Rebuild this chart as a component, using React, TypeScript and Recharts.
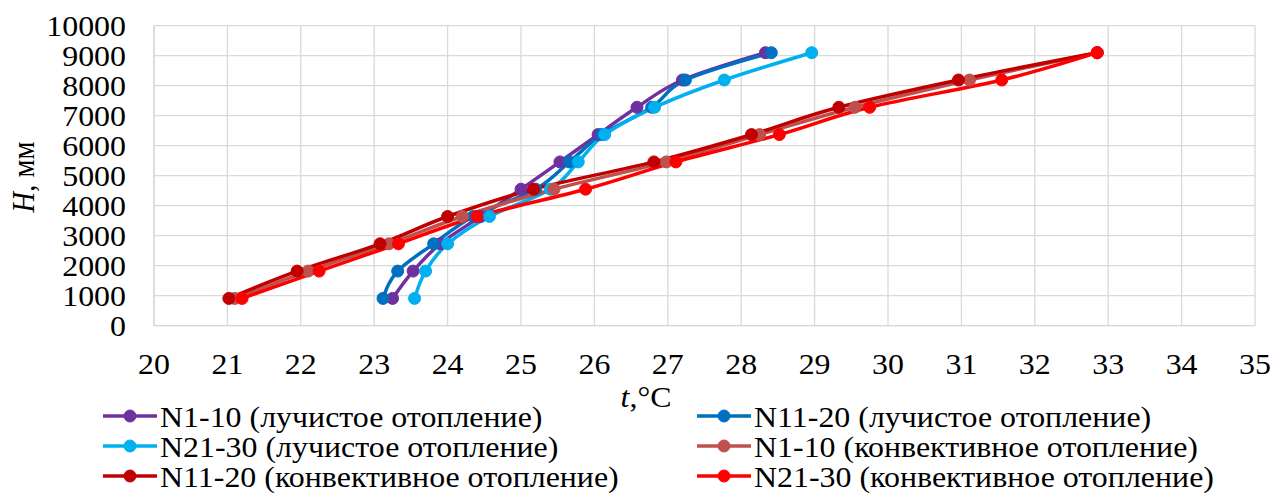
import React from 'react';
import { LineChart, Line, XAxis, YAxis, CartesianGrid, Legend } from 'recharts';

const H_LEVELS = [910, 1820, 2730, 3640, 4550, 5460, 6370, 7280, 8190, 9100];

const rad1_10 = [23.25, 23.53, 23.9, 24.45, 25.0, 25.53, 26.05, 26.58, 27.2, 28.33];
const rad11_20 = [23.12, 23.32, 23.81, 24.35, 25.2, 25.66, 26.1, 26.78, 27.24, 28.41];
const rad21_30 = [23.55, 23.7, 24.0, 24.57, 25.4, 25.78, 26.14, 26.82, 27.77, 28.96];
const conv1_10 = [21.1, 22.1, 23.2, 24.2, 25.45, 26.98, 28.25, 29.55, 31.11, 32.85];
const conv11_20 = [21.02, 21.95, 23.08, 24.0, 25.17, 26.81, 28.14, 29.33, 30.96, 32.85];
const conv21_30 = [21.2, 22.25, 23.33, 24.4, 25.88, 27.11, 28.52, 29.75, 31.55, 32.85];

const X_TICKS = [20, 21, 22, 23, 24, 25, 26, 27, 28, 29, 30, 31, 32, 33, 34, 35];
const Y_TICKS = [0, 1000, 2000, 3000, 4000, 5000, 6000, 7000, 8000, 9000, 10000];

const SERIES = [
  { key: 's1', name: 'N1-10 (лучистое отопление)', color: '#7030A0', values: rad1_10 },
  { key: 's2', name: 'N11-20 (лучистое отопление)', color: '#0070C0', values: rad11_20 },
  { key: 's3', name: 'N21-30 (лучистое отопление)', color: '#00B0F0', values: rad21_30 },
  { key: 's4', name: 'N1-10 (конвективное отопление)', color: '#C0504D', values: conv1_10 },
  { key: 's5', name: 'N11-20 (конвективное отопление)', color: '#C00000', values: conv11_20 },
  { key: 's6', name: 'N21-30 (конвективное отопление)', color: '#FF0000', values: conv21_30 },
];

const rows = H_LEVELS.map((h, i) => {
  const r: any = { H: h };
  SERIES.forEach((s) => {
    r[s.key] = s.values[i];
  });
  return r;
});

const FONT = '"Liberation Serif", "Times New Roman", serif';
const FS = 28.5;
const SX = 1.12;

const XTick = (props: any) => {
  const { x, y, payload } = props;
  return (
    <g transform={`translate(${x},${y})`}>
      <text transform={`scale(${SX},1)`} x={0} y={48.6} textAnchor="middle" fontFamily={FONT} fontSize={FS} fill="#000">
        {payload.value}
      </text>
    </g>
  );
};

const YTick = (props: any) => {
  const { x, y, payload } = props;
  return (
    <g transform={`translate(${x - 28},${y})`}>
      <text transform={`scale(${SX},1)`} x={0} y={0} dy="0.355em" textAnchor="end" fontFamily={FONT} fontSize={FS} fill="#000">
        {payload.value}
      </text>
    </g>
  );
};

const XTitle = () => (
  <g transform="translate(638,399)">
    <text transform={`scale(${SX},1)`} x={0} y={0} textAnchor="middle" fontFamily={FONT} fontSize={FS} fill="#000">
      <tspan fontStyle="italic">t</tspan>
      <tspan>,°C</tspan>
    </text>
  </g>
);

const YTitle = () => (
  <g transform="translate(26,169)">
    <text transform={`scale(${SX},1) rotate(-90)`} x={0} y={0} textAnchor="middle" fontFamily={FONT} fontSize={FS} fill="#000">
      <tspan fontStyle="italic">H</tspan>
      <tspan>, мм</tspan>
    </text>
  </g>
);

const renderLegend = () => (
  <svg width={1264} height={94} style={{ display: 'block', overflow: 'visible' }}>
    {SERIES.map((s, i) => {
      const col = i % 2;
      const row = Math.floor(i / 2);
      const x0 = 95 + col * 594;
      const cy = 15 + row * 30;
      return (
        <g key={s.key}>
          <line x1={x0} y1={cy} x2={x0 + 54} y2={cy} stroke={s.color} strokeWidth={3.5} />
          <circle cx={x0 + 27} cy={cy} r={6} fill={s.color} stroke={s.color} strokeWidth={1} />
          <g transform={`translate(${x0 + 57},${cy + 10.7})`}>
            <text transform={`scale(${SX},1)`} x={0} y={0} fontFamily={FONT} fontSize={FS} fill="#000">
              {s.name}
            </text>
          </g>
        </g>
      );
    })}
  </svg>
);

export default function App() {
  return (
    <div style={{ width: 1264, height: 487, padding: '8px 0 0 8px', position: 'relative' }}>
      <style>{`html, body { margin: 0; padding: 0; overflow: hidden; } svg { overflow: visible; }`}</style>
      <LineChart
        width={1264}
        height={487}
        layout="vertical"
        data={rows}
        margin={{ top: 17.7, right: 17, bottom: 109.3, left: 0 }}
      >
        <CartesianGrid stroke="#D9D9D9" strokeWidth={1.3} verticalValues={X_TICKS} horizontalValues={Y_TICKS} />
        <XAxis
          type="number"
          domain={[20, 35]}
          ticks={X_TICKS}
          interval={0}
          height={60}
          tickLine={false}
          tickSize={0}
          tickMargin={0}
          axisLine={{ stroke: '#D9D9D9', strokeWidth: 1.3 }}
          tick={<XTick />}
          allowDataOverflow
          label={{ content: () => <XTitle /> }}
        />
        <YAxis
          type="number"
          dataKey="H"
          domain={[0, 10000]}
          ticks={Y_TICKS}
          interval={0}
          reversed
          width={146}
          tickLine={false}
          tickSize={0}
          tickMargin={0}
          axisLine={{ stroke: '#D9D9D9', strokeWidth: 1.3 }}
          tick={<YTick />}
          allowDataOverflow
          label={{ content: () => <YTitle /> }}
        />
        <Legend
          layout="horizontal"
          verticalAlign="middle"
          align="center"
          wrapperStyle={{ top: 393, left: 0, width: 1264, height: 94 }}
          content={renderLegend}
        />
        {SERIES.map((s) => (
          <Line
            key={s.key}
            dataKey={s.key}
            name={s.name}
            type="monotone"
            stroke={s.color}
            strokeWidth={3.5}
            dot={{ r: 6, fill: s.color, stroke: s.color, strokeWidth: 1 }}
            activeDot={false}
            isAnimationActive={false}
          />
        ))}
      </LineChart>
    </div>
  );
}
